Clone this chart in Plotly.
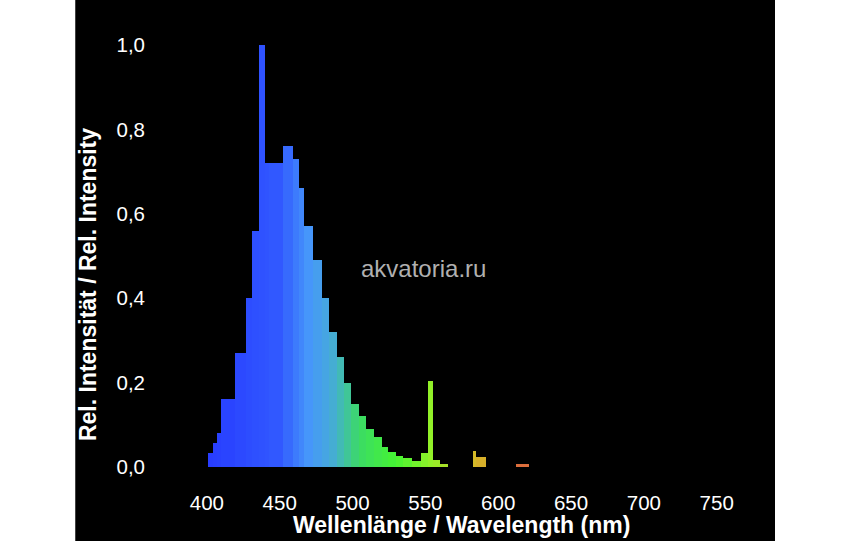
import plotly.graph_objects as go

# spectrum as stepped bars: left edge (nm), right edge (nm), relative intensity
left_nm = [401, 404, 407, 410, 419, 427, 431, 436, 440, 442.5, 452, 459, 463, 467, 473, 479, 484, 489,
           494, 499, 504.5, 509, 515, 520, 524.5, 530, 534.5, 540.5, 547, 552, 555.5, 560,
           583, 585, 612.5]
right_nm = [404, 407, 410, 419, 427, 431, 436, 440, 442.5, 452, 459, 463, 467, 473, 479, 484, 489, 494,
            499, 504.5, 509, 515, 520, 524.5, 530, 534.5, 540.5, 547, 552, 555.5, 560, 565.5,
            585, 591.5, 621]
intensity = [0.033, 0.057, 0.08, 0.16, 0.27, 0.40, 0.56, 1.0, 0.72, 0.72, 0.76, 0.73, 0.66, 0.57, 0.49,
             0.40, 0.32, 0.26, 0.20, 0.15, 0.12, 0.09, 0.07, 0.047, 0.035, 0.026, 0.021, 0.015,
             0.033, 0.204, 0.016, 0.008, 0.038, 0.024, 0.006]

x_ticks = [400, 450, 500, 550, 600, 650, 700, 750]
y_ticks = [0.0, 0.2, 0.4, 0.6, 0.8, 1.0]

# colour stops along wavelength
stops = [(400, (40, 60, 255)), (450, (50, 90, 255)), (470, (70, 150, 250)), (485, (70, 170, 220)),
         (505, (60, 220, 100)), (530, (70, 245, 50)), (555, (150, 240, 40)), (585, (215, 185, 40)),
         (615, (220, 110, 60))]


def wl_color(w):
    if w <= stops[0][0]:
        c = stops[0][1]
    elif w >= stops[-1][0]:
        c = stops[-1][1]
    else:
        for (w0, c0), (w1, c1) in zip(stops, stops[1:]):
            if w0 <= w <= w1:
                t = (w - w0) / (w1 - w0)
                c = tuple(int(a + (b - a) * t) for a, b in zip(c0, c1))
                break
    return f"rgb{c}"


centers = [(a + b) / 2 for a, b in zip(left_nm, right_nm)]
widths = [b - a for a, b in zip(left_nm, right_nm)]

fig = go.Figure(go.Bar(
    x=centers, y=intensity, width=widths,
    marker=dict(color=[wl_color(c) for c in centers], line=dict(width=0)),
    hoverinfo="skip",
))

FAM = "Liberation Sans, Arial"
tickf = dict(family=FAM, size=20.5, color="white")
titlef = dict(family=FAM, size=23, color="white", weight="bold")
fig.update_layout(
    width=849, height=541,
    margin=dict(l=185, r=74, t=20, b=66),
    paper_bgcolor="white", plot_bgcolor="black",
    separators=", ",
    showlegend=False, bargap=0,
    font=tickf,
    shapes=[dict(type="rect", xref="paper", yref="paper", x0=-0.186, x1=1, y0=-0.3, y1=1.2,
                 fillcolor="black", line=dict(width=0), layer="below")],
    annotations=[
        dict(text="akvatoria.ru", x=549, y=0.47, xref="x", yref="y", showarrow=False,
             font=dict(family=FAM, size=24, color="#b0b0b0")),
        dict(text="Wellenlänge / Wavelength (nm)", x=0.468, y=-0.11, xref="paper", yref="paper",
             xanchor="center", yanchor="middle", showarrow=False, font=titlef),
        dict(text="Rel. Intensität / Rel. Intensity", x=-0.164, y=0.418, xref="paper", yref="paper",
             xanchor="center", yanchor="middle", textangle=-90, showarrow=False, font=titlef),
    ],
)
fig.update_xaxes(range=[385, 790], tickvals=x_ticks, showgrid=False, zeroline=False, showline=False,
                 ticks="", ticklabelstandoff=13, tickfont=tickf)
fig.update_yaxes(range=[-0.019, 1.059], tickvals=y_ticks, tickformat=".1f", showgrid=False,
                 zeroline=False, showline=False, ticks="", ticklabelstandoff=39, tickfont=tickf)

fig.write_html("out.html", config={"displayModeBar": False},
               post_script="document.body.style.margin='0';")
